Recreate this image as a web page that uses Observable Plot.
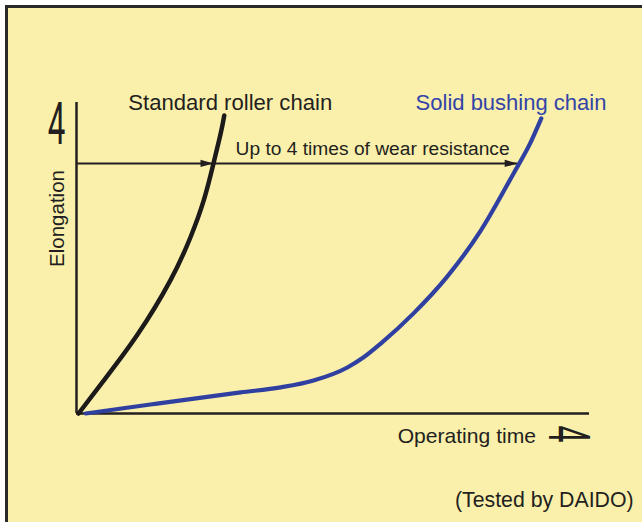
<!DOCTYPE html>
<html>
<head>
<meta charset="utf-8">
<script src="https://cdn.jsdelivr.net/npm/d3@7"></script>
<script src="https://cdn.jsdelivr.net/npm/@observablehq/plot@0.6"></script>
<style>
  html, body { margin: 0; padding: 0; background: #ffffff; }
  #wrap { position: relative; width: 642px; height: 522px; overflow: hidden; }
  #frame { position: absolute; left: 5px; top: 5px; width: 637px; height: 517px; box-sizing: border-box;
           border-left: 3px solid #2b2a29; border-top: 3px solid #2b2a29; background: #FAF0AB; }
  #chart { position: absolute; left: 0; top: 0; }
</style>
</head>
<body>
<div id="wrap"><div id="frame"></div><div id="chart"></div></div>
<script>
// Operating time (relative units) and elongation (relative units)
const standardTime  = [0.4, 5.3, 11.9, 18.3, 22.2, 24.8, 26.7, 28.1, 28.8];
const standardElong = [0, 10.6, 25.4, 42.8, 56.6, 68.5, 80.4, 90.0, 95.8];
const solidTime  = [1.8, 14.4, 32.0, 39.8, 46.2, 52.8, 55.9, 59.3, 65.7, 72.3, 78.8, 85.2, 88.5, 90.6];
const solidElong = [0, 2.9, 6.8, 8.4, 10.6, 14.8, 18.0, 22.5, 32.2, 44.1, 58.8, 77.2, 87.1, 94.9];
const limitElong = 80.4;              // elongation limit used for comparison
const limitTimes = [26.7, 86.0];      // times at which each chain reaches the limit

const seriesNames = ["Standard roller chain", "Solid bushing chain"];

const standard = standardTime.map((t, i) => ({t, e: standardElong[i]}));
const solid = solidTime.map((t, i) => ({t, e: solidElong[i]}));
const heads = limitTimes.map(t => ({t, e: limitElong}));

const arrowHead = { draw(ctx) { ctx.moveTo(0, 0); ctx.lineTo(-13, -3.6); ctx.lineTo(-13, 3.6); ctx.closePath(); } };

const ink = "#231f20";
const blue = "#3040a0";
const font = "'Liberation Sans', Arial, Helvetica, sans-serif";

const plot = Plot.plot({
  width: 642, height: 522,
  marginLeft: 76, marginRight: 53, marginTop: 102, marginBottom: 109,
  x: {domain: [0, 100], axis: null},
  y: {domain: [0, 100], axis: null},
  style: {background: "transparent", overflow: "visible", fontFamily: font},
  marks: [
    Plot.ruleY([0], {stroke: ink, strokeWidth: 2.5}),
    Plot.ruleX([0], {stroke: ink, strokeWidth: 2.5}),
    Plot.ruleY([limitElong], {x1: 0, x2: limitTimes[1], stroke: ink, strokeWidth: 2}),
    Plot.dot(heads, {x: "t", y: "e", symbol: arrowHead, fill: ink, stroke: "none", r: 4}),
    Plot.line(standard, {x: "t", y: "e", stroke: "#1c1b1a", strokeWidth: 4.5, curve: "natural"}),
    Plot.line(solid, {x: "t", y: "e", stroke: blue, strokeWidth: 4.2, curve: "monotone-x"}),
    Plot.text([seriesNames[0]], {x: 10.1, y: 100, text: d => d, textAnchor: "start", fontSize: 22.1, fill: ink}),
    Plot.text([seriesNames[1]], {x: 66.1, y: 100, text: d => d, textAnchor: "start", fontSize: 22, fill: "#3344a8"}),
    Plot.text(["Up to 4 times of wear resistance"], {x: 31.0, y: 85.2, text: d => d, textAnchor: "start", fontSize: 19.2, fill: ink}),
    Plot.text(["Elongation"], {x: -3.7, y: 62.7, text: d => d, rotate: -90, fontSize: 20.5, fill: ink}),
    Plot.text(["Operating time"], {x: 62.6, y: -7.4, text: d => d, textAnchor: "start", fontSize: 21.1, fill: ink}),
    Plot.text(["(Tested by DAIDO)"], {x: 108.6, y: -28, text: d => d, textAnchor: "end", fontSize: 21.3, fill: ink}),
    Plot.text(["4"], {x: -3.9, y: 92.9, text: d => d, fontSize: 60, fontWeight: 400, fontFamily: "Roboto", fill: ink}),
    Plot.text(["4"], {x: 95.7, y: -6.6, text: d => d, rotate: 90, fontSize: 58, fontWeight: 400, fontFamily: "Roboto", fill: ink})
  ]
});

// narrow the two big "4" arrow glyphs
plot.querySelectorAll("text").forEach(t => {
  if (t.textContent !== "4") return;
  const tr = t.getAttribute("transform");
  if (tr) {
    t.setAttribute("transform", tr + " scale(0.52,1)");
  } else {
    const x = +t.getAttribute("x") || 0, y = +t.getAttribute("y") || 0;
    t.removeAttribute("x"); t.removeAttribute("y");
    t.setAttribute("transform", `translate(${x},${y}) scale(0.52,1)`);
  }
});

document.getElementById("chart").appendChild(plot);
</script>
</body>
</html>
